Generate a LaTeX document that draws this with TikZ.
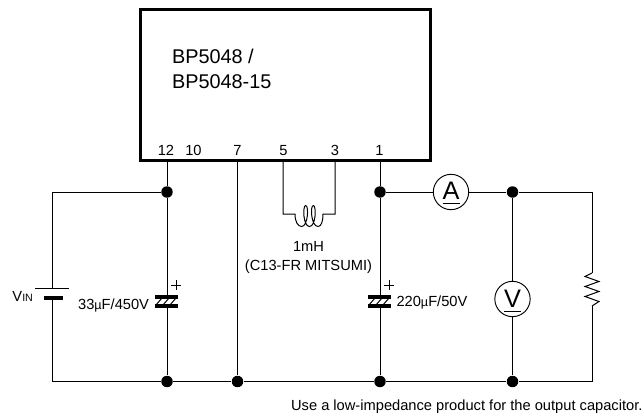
\documentclass[tikz,border=0pt]{standalone}
\usepackage{fontspec}
\setmainfont{Liberation Sans}
\tikzset{
  dot/.style={circle,fill=black,inner sep=0pt,minimum size=8.6pt},
  meter/.style={circle,draw,fill=white,line width=0.7pt,inner sep=0pt,minimum size=26.5pt},
  lbl/.style={inner sep=0pt,font=\fontsize{11}{13}\selectfont},
  title/.style={inner sep=0pt,anchor=base west,font=\fontsize{14.9}{18}\selectfont},
  plate/.style={line width=2.4pt}
}
\begin{document}
\begin{tikzpicture}[x=0.75pt,y=-0.75pt,line width=0.75pt]
  \useasboundingbox (0,0) rectangle (643,414);
  % package
  \node[draw,line width=2.2pt,minimum width=217.5pt,minimum height=113pt,inner sep=0pt] (ic) at (285.5,85) {};
  \node[title] (icname) at (171.5,63) {BP5048 /};
  \node[title] (icnameb) at (171.5,88) {BP5048-15};
  \begin{scope}[lbl,anchor=base]
    \node (pin12) at (166,155) {12};
    \node (pin10) at (193.5,155) {10};
    \node (pin7) at (237.5,155) {7};
    \node (pin5) at (283.5,155) {5};
    \node (pin3) at (335,155) {3};
    \node (pin1) at (379.5,155) {1};
  \end{scope}
  % junctions
  \node[dot] (j12t) at (167,192) {};
  \node[dot] (j1t) at (380,192) {};
  \node[dot] (joutt) at (512.5,192) {};
  \node[dot] (j12b) at (167,381.5) {};
  \node[dot] (j7b) at (237.5,381.5) {};
  \node[dot] (j1b) at (380,381.5) {};
  \node[dot] (joutb) at (512.5,381.5) {};
  % meters
  \node[meter] (ammeter) at (451,192) {};
  \node[meter] (voltmeter) at (512.5,299) {};
  \node[inner sep=0pt,font=\fontsize{19}{19}\selectfont] (a) at (451,191) {A};
  \node[inner sep=0pt,font=\fontsize{19}{19}\selectfont] (v) at (512.5,298.5) {V};
  \draw (442.5,203) -- (460,203);
  \draw (504,311) -- (521,311);
  % end points on the package edge and the corners
  \coordinate (p12) at (167,161);
  \coordinate (p7) at (237.5,161);
  \coordinate (p5) at (283,161);
  \coordinate (p3) at (335,161);
  \coordinate (p1) at (380,161);
  \coordinate (tl) at (52.5,192);
  \coordinate (bl) at (52.5,381.5);
  \coordinate (tr) at (592,192);
  \coordinate (br) at (592,381.5);
  \coordinate (batp) at (52.5,288);
  \coordinate (batn) at (52.5,298);
  \coordinate (c1p) at (167,297);
  \coordinate (c1n) at (167,306);
  \coordinate (c2p) at (380,297);
  \coordinate (c2n) at (380,306);
  \coordinate (rt) at (592,273);
  \coordinate (rb) at (592,306);
  \coordinate (lleft) at (295,214);
  \coordinate (lright) at (323,214);
  % wires
  \draw (p12) -- (j12t) -- (c1p);
  \draw (c1n) -- (j12b);
  \draw (p1) -- (j1t) -- (c2p);
  \draw (c2n) -- (j1b);
  \draw (p7) -- (j7b);
  \draw (j12t) -- (tl) -- (batp);
  \draw (batn) -- (bl) -- (j12b) -- (j7b) -- (j1b) -- (joutb) -- (br) -- (rb);
  \draw (j1t) -- (ammeter) -- (joutt) -- (tr) -- (rt);
  \draw (joutt) -- (voltmeter) -- (joutb);
  % battery
  \draw (35,288) -- (69,288);
  \draw[plate] (44,298) -- (63,298);
  % capacitors
  \foreach \cx/\name in {167/c1,380/c2} {
    \draw[plate] (\cx-12,297) -- (\cx+11,297);
    \draw[plate] (\cx-12,306) -- (\cx+11,306);
    \foreach \dx in {-8,-1,6}
      \draw (\cx+\dx-3,305) -- (\cx+\dx+3,298);
    \draw (\cx+4,285) -- (\cx+14,285);
    \draw (\cx+9,280) -- (\cx+9,290);
  }
  \node[lbl,anchor=base east] (c1val) at (149.5,309) {33{\fontsize{9.5}{10}\selectfont µ}F/450V};
  \node[lbl,anchor=base west] (c2val) at (396,306) {220{\fontsize{9.5}{10}\selectfont µ}F/50V};
  % coil
  \draw (p5) |- (lleft)
    .. controls (295,222) and (298,226.5) .. (301.7,226.5)
    .. controls (308,226.5) and (309,205.5) .. (305.7,205.5)
    .. controls (302.5,205.5) and (303,226.5) .. (309.5,226.5)
    .. controls (316,226.5) and (316.5,205.5) .. (313.3,205.5)
    .. controls (310,205.5) and (311,226.5) .. (318,226.5)
    .. controls (321,226.5) and (323,222) .. (lright) -| (p3);
  \node[lbl,anchor=base] (lval) at (308.5,251.5) {1mH};
  \node[lbl,anchor=base] (lpart) at (308.5,270) {(C13-FR MITSUMI)};
  % load
  \draw (rt) -- (585,276.5) -- (599,281.5) -- (585,286.5) -- (599,291.5) -- (585,296.5) -- (599,301.5) -- (rb);
  % source label
  \node[inner sep=0pt,anchor=base west] (vin) at (12,301) {\fontsize{11}{13}\selectfont V\fontsize{8}{10}\selectfont IN};
  % note
  \node[lbl,anchor=base east] (note) at (643,410.7) {Use a low-impedance product for the output capacitor.};
\end{tikzpicture}
\end{document}
